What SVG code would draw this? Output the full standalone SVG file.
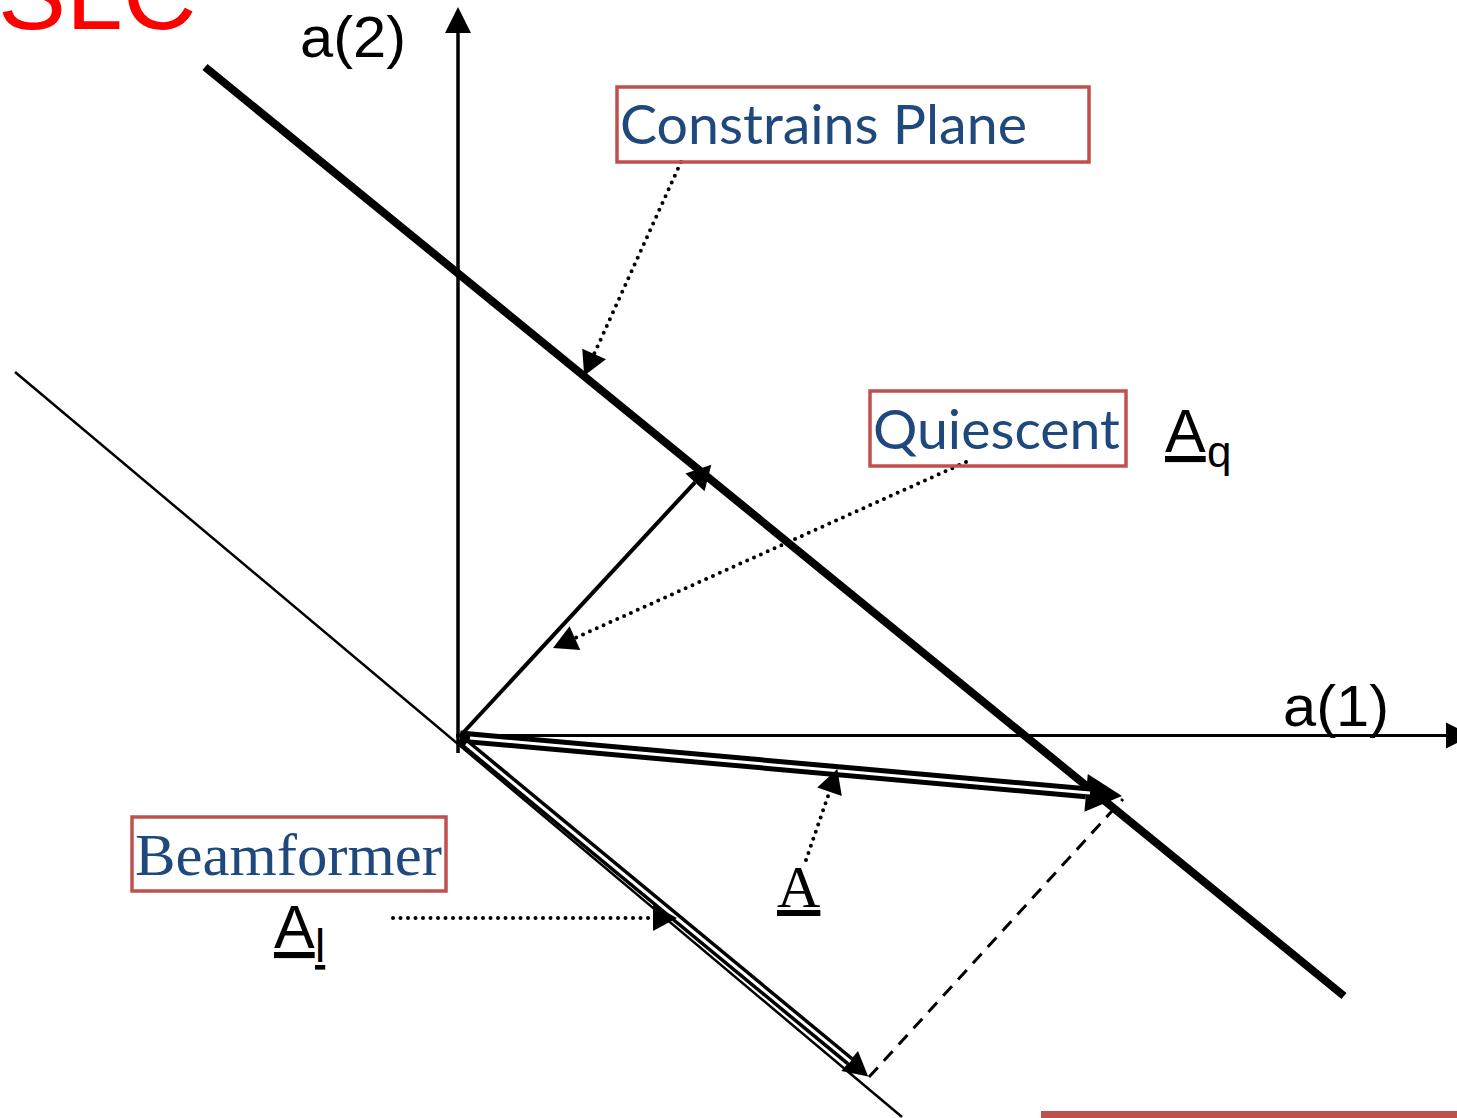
<svg xmlns="http://www.w3.org/2000/svg" width="1457" height="1118" viewBox="0 0 1457 1118">
<style>
.box{fill:none;stroke:#C0504D;stroke-width:3.5}
.lbl{font-family:Lato,"Open Sans","Liberation Sans",sans-serif;fill:#1F497D}
.serif{font-family:"Liberation Serif","Times New Roman",serif}
.sans{font-family:"Liberation Sans",Arial,sans-serif;fill:#000}
.ln{fill:none;stroke:#000}
.dot{fill:none;stroke:#000;stroke-width:4;stroke-dasharray:0 7.5;stroke-linecap:round}
.dash{fill:none;stroke:#000;stroke-width:3;stroke-dasharray:13 9}
</style>
<defs>
<marker id="ax" markerUnits="userSpaceOnUse" markerWidth="28" markerHeight="28" refX="0" refY="13" orient="auto" overflow="visible">
<path d="M0,0 L26,13 L0,26 z" fill="#000" stroke="none"/>
</marker>
<marker id="ah" markerUnits="userSpaceOnUse" markerWidth="26" markerHeight="28" refX="0" refY="13" orient="auto" overflow="visible">
<path d="M0,0 L24,13 L0,26 z" fill="#000" stroke="none"/>
</marker>
<marker id="ahL" markerUnits="userSpaceOnUse" markerWidth="38" markerHeight="40" refX="0" refY="19" orient="auto" overflow="visible">
<path d="M0,0 L36,19 L0,38 z" fill="#000" stroke="none"/>
</marker>
</defs>
<rect width="1457" height="1118" fill="#fff"/>

<g id="connectors">
<line class="ln" x1="458" y1="753" x2="458" y2="33" stroke-width="3.5" marker-end="url(#ax)"/>
<line class="ln" x1="456" y1="735.5" x2="1446" y2="735.5" stroke-width="3" marker-end="url(#ax)"/>
<line class="ln" x1="205" y1="67" x2="1344" y2="996" stroke-width="8"/>
<line class="ln" x1="15" y1="372" x2="902" y2="1117" stroke-width="2.5"/>
<line class="ln" x1="461" y1="735" x2="695" y2="482.3" stroke-width="4" marker-end="url(#ah)"/>
<line class="ln" x1="460" y1="737" x2="1086.1" y2="792.8" stroke-width="13" marker-end="url(#ahL)"/>
<line class="ln" x1="470" y1="737.9" x2="1090" y2="793.1" stroke-width="3" style="stroke:#fff"/>
<line class="ln" x1="460" y1="739" x2="849.7" y2="1061.1" stroke-width="10" marker-end="url(#ah)"/>
<line class="ln" x1="466" y1="744" x2="850.5" y2="1061.7" stroke-width="3" style="stroke:#fff"/>
<line class="dash" x1="869" y1="1077" x2="1123" y2="799"/>
<line class="dot" x1="681" y1="162" x2="594.1" y2="354" marker-end="url(#ah)"/>
<line class="dot" x1="966" y1="462" x2="574.9" y2="638.1" marker-end="url(#ah)"/>
<line class="dot" x1="806" y1="860" x2="829.5" y2="791.7" marker-end="url(#ah)"/>
<line class="dot" x1="393" y1="918" x2="653" y2="918" marker-end="url(#ah)"/>
</g>

<g id="slc-title">
<text x="-2" y="29" font-family="Liberation Sans, Arial, sans-serif" font-size="102" fill="#FF0000">SLC</text>
</g>

<g id="axis-a2">
<text class="sans" x="300" y="57" font-size="58" textLength="106" lengthAdjust="spacingAndGlyphs">a(2)</text>
</g>
<g id="axis-a1">
<text class="sans" x="1283" y="726" font-size="58" textLength="106" lengthAdjust="spacingAndGlyphs">a(1)</text>
</g>

<g id="constrains-plane">
<rect class="box" x="617" y="87" width="472" height="75"/>
<text class="lbl" x="620" y="144" font-size="54" textLength="407" lengthAdjust="spacingAndGlyphs">Constrains Plane</text>
</g>

<g id="quiescent">
<rect class="box" x="870" y="391" width="256" height="75"/>
<text class="lbl" x="873" y="449" font-size="54" textLength="247" lengthAdjust="spacingAndGlyphs">Quiescent</text>
</g>

<g id="beamformer">
<rect class="box" x="132" y="817" width="314" height="74"/>
<text class="serif" x="135" y="875" font-size="60" fill="#1F497D" textLength="307" lengthAdjust="spacingAndGlyphs">Beamformer</text>
</g>

<g id="label-Aq">
<text class="sans" x="1165" y="452" font-size="61" text-decoration="underline">A</text>
<text class="sans" x="1207" y="467" font-size="44">q</text>
</g>

<g id="label-Al">
<text class="sans" x="274" y="948" font-size="61" text-decoration="underline">A</text>
<text class="sans" x="315" y="962" font-size="46" text-decoration="underline">l</text>
</g>

<g id="label-A">
<text class="serif" x="777" y="907" font-size="60" fill="#000" text-decoration="underline">A</text>
</g>

<rect id="bottom-bar" x="1041" y="1111" width="416" height="7" fill="#C0504D"/>
</svg>
